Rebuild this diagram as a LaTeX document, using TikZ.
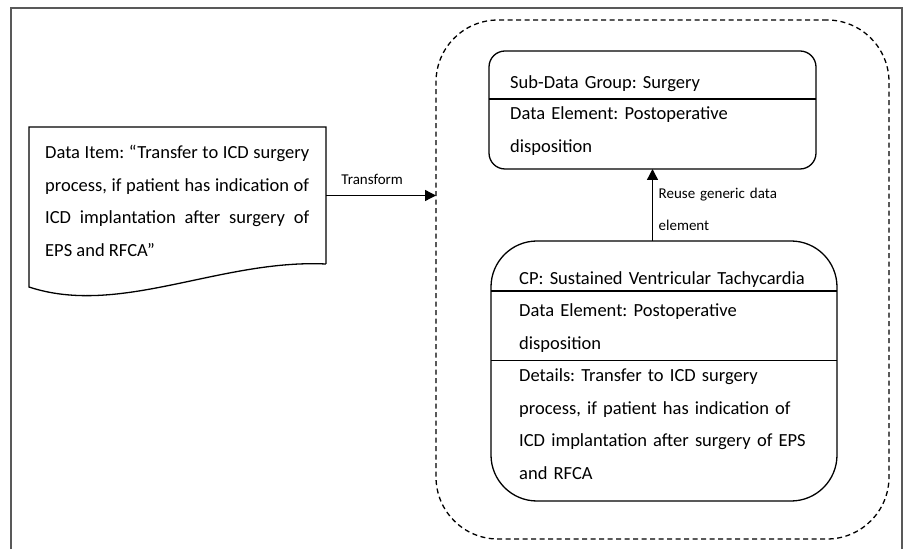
\documentclass[tikz,border=0pt]{standalone}
\usepackage{fontspec}
\setmainfont{Carlito}
\frenchspacing
\usetikzlibrary{positioning,arrows.meta}

\tikzset{
  frame/.style={draw=black!65, line width=2pt},
  group/.style={draw, dash pattern=on 5pt off 3.5pt, line width=1.3pt,
    rounded corners=62pt, inner sep=0pt, outer sep=0pt},
  box/.style={draw, line width=1.3pt, inner sep=0pt, outer sep=0pt},
  txt/.style={align=left, text width=305pt, inner sep=0pt, anchor=base west,
    font=\fontsize{18.5}{32.5}\selectfont},
  lbl/.style={inner sep=0pt, font=\fontsize{15}{32}\selectfont},
  >={Triangle[length=11pt,width=11pt]}
}

\begin{document}
\begin{tikzpicture}[x=1pt, y=1pt]
  \useasboundingbox (0,0) rectangle (907,549);
  % outer frame
  \draw[frame] (11,0) -- (11,541) -- (902,541) -- (902,0);

  % dashed group and the two records
  \node[group, minimum width=453pt, minimum height=519pt] (grp) at (662.5,269.5) {};
  \node[box, rounded corners=16pt, minimum width=327pt, minimum height=118pt] (sub) at (652.5,439) {};
  \node[box, rounded corners=46pt, minimum width=346pt, minimum height=260pt] (cp) at (664,178) {};
  \node[inner sep=0pt, outer sep=0pt, minimum width=297pt, minimum height=137pt] (item) at (177.5,353.5) {};

  % document shape
  \draw[box] (item.south east) -- (item.north east) -- (item.north west)
    -- ([yshift=-23pt]item.south west)
    .. controls ([xshift=91pt,yshift=-53pt]item.south west)
       and ([xshift=-106pt,yshift=5pt]item.south east) .. (item.south east);
  \node[txt, align=justify, text width=264pt] (itemtext) at ([xshift=16pt,yshift=-32pt]item.north west)
    {Data Item: “Transfer to ICD surgery process, if patient has indication of ICD implantation after surgery of EPS and RFCA”};

  % sub-data group
  \draw[line width=2.5pt] ([yshift=-48pt]sub.north west) -- ([yshift=-48pt]sub.north east);
  \node[txt] (subname) at ([xshift=21pt,yshift=-38pt]sub.north west) {Sub-Data Group: Surgery};
  \node[txt] (subelem) at ([xshift=21pt,yshift=-69pt]sub.north west) {Data Element: Postoperative\\disposition};

  % clinical pathway
  \draw[line width=2.5pt] ([yshift=-50pt]cp.north west) -- ([yshift=-50pt]cp.north east);
  \draw[line width=1pt] ([yshift=-120pt]cp.north west) -- ([yshift=-120pt]cp.north east);
  \node[txt] (cpname) at ([xshift=28pt,yshift=-44pt]cp.north west) {CP: Sustained Ventricular Tachycardia};
  \node[txt] (cpelem) at ([xshift=28pt,yshift=-76pt]cp.north west) {Data Element: Postoperative\\disposition};
  \node[txt] (cpdet) at ([xshift=28pt,yshift=-141pt]cp.north west)
    {Details: Transfer to ICD surgery\\process, if patient has indication of\\ICD implantation after surgery of EPS\\and RFCA};

  \path[->, line width=1.3pt]
    (item.east) edge node[lbl, above=10pt, pos=0.42] {Transform} (item.east -| grp.west)
    (sub.south |- cp.north) edge node[lbl, anchor=base west, align=left, text width=130pt, xshift=5.5pt, yshift=6pt]
      {Reuse generic data\\element} (sub.south);
\end{tikzpicture}
\end{document}
